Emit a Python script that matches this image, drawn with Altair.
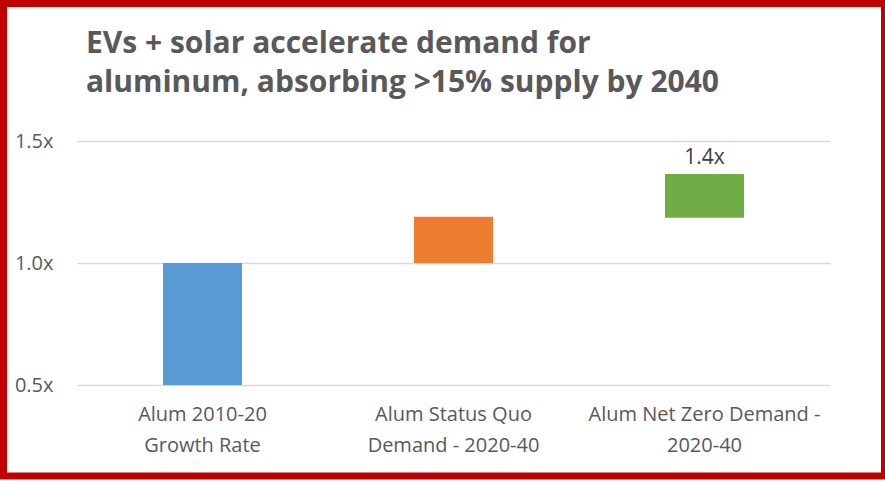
import altair as alt
import pandas as pd

categories = ["Alum 2010-20 Growth Rate", "Alum Status Quo Demand - 2020-40", "Alum Net Zero Demand - 2020-40"]
label_lines = [["Alum 2010-20", "Growth Rate"], ["Alum Status Quo", "Demand - 2020-40"], ["Alum Net Zero Demand -", "2020-40"]]
bar_start = [0.0, 1.0, 1.185]
bar_end = [1.0, 1.19, 1.365]
bar_labels = ["", "", "1.4x"]
colors = ["#5B9BD5", "#ED7D31", "#70AD47"]

df = pd.DataFrame({
    "cat": categories,
    "start": bar_start,
    "end": bar_end,
    "label": bar_labels,
    "color": colors,
})

FONT = "Open Sans"
GRAY = "#595959"

label_expr = (
    "datum.value == '" + categories[0] + "' ? ['" + "','".join(label_lines[0]) + "'] : "
    "datum.value == '" + categories[1] + "' ? ['" + "','".join(label_lines[1]) + "'] : "
    "['" + "','".join(label_lines[2]) + "']"
)

x_enc = alt.X(
    "cat:N",
    sort=categories,
    scale=alt.Scale(paddingInner=0.685, paddingOuter=0.3425),
    axis=alt.Axis(
        title=None, labelAngle=0, domain=False, ticks=False,
        labelExpr=label_expr, labelFont=FONT, labelFontSize=20,
        labelColor=GRAY, labelPadding=19, labelLineHeight=31,
        labelBaseline="top", labelLimit=400,
    ),
)

bars = alt.Chart(df).mark_bar(clip=True).encode(
    x=x_enc,
    y=alt.Y(
        "end:Q",
        scale=alt.Scale(domain=[0.5, 1.5], nice=False, zero=False),
        axis=alt.Axis(
            title=None, values=[0.5, 1.0, 1.5], labelExpr="format(datum.value, '.1f') + 'x'",
            domain=False, ticks=False, labelFont=FONT, labelFontSize=20,
            labelColor=GRAY, labelPadding=24, gridColor="#D9D9D9", gridWidth=1.5,
        ),
    ),
    y2="start:Q",
    color=alt.Color("color:N", scale=None),
)

text = alt.Chart(df).mark_text(
    font=FONT, fontSize=21, color="#404040", baseline="alphabetic", dy=-10
).encode(
    x=alt.X("cat:N", sort=categories),
    y=alt.Y("end:Q"),
    text="label:N",
)

frame = alt.Chart(alt.Data(values=[{}])).mark_rect(
    fillOpacity=0, stroke="#C00000", strokeWidth=7
).encode(
    x=alt.value(-73.5), x2=alt.value(807.5), y=alt.value(-137.5), y2=alt.value(335)
)

chart = alt.layer(bars, text, frame).properties(
    width=753,
    height=244,
    padding={"left": 77, "top": 141, "right": 55, "bottom": 98},
    autosize=alt.AutoSizeParams(type="none"),
    background="white",
    title=alt.Title(
        ["EVs + solar accelerate demand for", "aluminum, absorbing >15% supply by 2040"],
        anchor="start", font=FONT, fontSize=30, fontWeight="bold", color=GRAY,
        lineHeight=39, dx=86, offset=0, dy=98,
    ),
).configure_view(stroke=None)

chart.save("out.html", embed_options={"renderer": "svg", "actions": False})
